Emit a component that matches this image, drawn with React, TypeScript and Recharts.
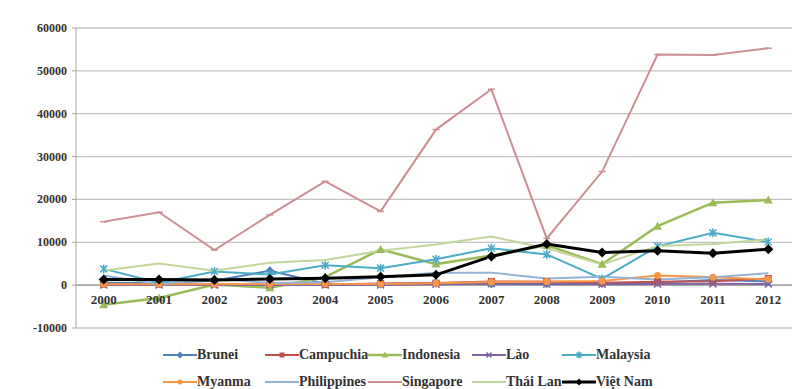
import { LineChart, Line, XAxis, YAxis, CartesianGrid, ReferenceLine, Legend } from 'recharts';

const years = ['2000', '2001', '2002', '2003', '2004', '2005', '2006', '2007', '2008', '2009', '2010', '2011', '2012'];

const brunei = [550, 526, 1035, 3375, 334, 289, 434, 260, 330, 371, 626, 1208, 865];
const campuchia = [149, 149, 145, 84, 131, 381, 483, 867, 815, 539, 783, 902, 1557];
const indonesia = [-4550, -2980, 145, -600, 1900, 8340, 4910, 6930, 9320, 4880, 13770, 19240, 19850];
const lao = [34, 24, 5, 19, 17, 28, 187, 324, 228, 190, 279, 301, 294];
const malaysia = [3790, 550, 3200, 2470, 4620, 3970, 6060, 8600, 7170, 1450, 9060, 12200, 10070];
const myanma = [210, 190, 190, 290, 250, 240, 430, 710, 860, 970, 2250, 1850, 1350];
const philippines = [2240, 200, 1540, 490, 690, 1850, 2920, 2920, 1540, 1960, 1300, 1820, 2800];
const singapore = [14800, 17000, 8200, 16400, 24200, 17200, 36300, 45700, 10900, 26500, 53800, 53700, 55300];
const thaiLan = [3400, 5070, 3340, 5240, 5860, 8000, 9460, 11330, 8570, 4850, 9150, 9600, 10700];
const vietNam = [1300, 1300, 1200, 1450, 1610, 1950, 2400, 6700, 9580, 7600, 8000, 7430, 8370];

const yTicks = [-10000, 0, 10000, 20000, 30000, 40000, 50000, 60000];

type Shape = 'diamond' | 'square' | 'triangle' | 'x' | 'star' | 'circle' | 'plus' | 'dash' | 'none';

const series: { name: string; values: number[]; color: string; shape: Shape; width: number }[] = [
  { name: 'Brunei', values: brunei, color: '#4f81bd', shape: 'diamond', width: 2 },
  { name: 'Campuchia', values: campuchia, color: '#c0504d', shape: 'square', width: 2 },
  { name: 'Indonesia', values: indonesia, color: '#9bbb59', shape: 'triangle', width: 2.5 },
  { name: 'Lào', values: lao, color: '#8064a2', shape: 'x', width: 2 },
  { name: 'Malaysia', values: malaysia, color: '#4bacc6', shape: 'star', width: 2 },
  { name: 'Myanma', values: myanma, color: '#f79646', shape: 'circle', width: 2 },
  { name: 'Philippines', values: philippines, color: '#95b3d7', shape: 'none', width: 2 },
  { name: 'Singapore', values: singapore, color: '#cc8f93', shape: 'dash', width: 2 },
  { name: 'Thái Lan', values: thaiLan, color: '#c3d69b', shape: 'none', width: 2 },
  { name: 'Việt Nam', values: vietNam, color: '#000000', shape: 'diamond', width: 3 },
];

const data = years.map((year, i) => {
  const row: Record<string, string | number> = { year };
  series.forEach(s => { row[s.name] = s.values[i]; });
  return row;
});

const legendCols = [163, 265, 368, 472, 562];
const FONT = "'Liberation Serif', 'DejaVu Serif', serif";

function Marker({ cx, cy, shape, color, r = 3.5 }: { cx: number; cy: number; shape: Shape; color: string; r?: number }) {
  if (cx == null || cy == null) return null;
  switch (shape) {
    case 'diamond':
      return <polygon points={`${cx},${cy - r - 1} ${cx + r + 1},${cy} ${cx},${cy + r + 1} ${cx - r - 1},${cy}`} fill={color} />;
    case 'square':
      return <rect x={cx - r} y={cy - r} width={r * 2} height={r * 2} fill={color} />;
    case 'triangle':
      return <polygon points={`${cx},${cy - r - 1} ${cx + r + 1},${cy + r} ${cx - r - 1},${cy + r}`} fill={color} />;
    case 'x':
      return <path d={`M${cx - r},${cy - r}L${cx + r},${cy + r}M${cx - r},${cy + r}L${cx + r},${cy - r}`} stroke={color} strokeWidth={1.5} />;
    case 'star':
      return <path d={`M${cx - r},${cy - r}L${cx + r},${cy + r}M${cx - r},${cy + r}L${cx + r},${cy - r}M${cx},${cy - r - 1}L${cx},${cy + r + 1}`} stroke={color} strokeWidth={1.5} />;
    case 'circle':
      return <circle cx={cx} cy={cy} r={r} fill={color} />;
    case 'plus':
      return <path d={`M${cx - r},${cy}L${cx + r},${cy}M${cx},${cy - r}L${cx},${cy + r}`} stroke={color} strokeWidth={1.5} />;
    case 'dash':
      return <path d={`M${cx - r},${cy}L${cx + r},${cy}`} stroke={color} strokeWidth={1.5} />;
    default:
      return null;
  }
}

const XTick = (props: any) => {
  const { x, y, payload } = props;
  return (
    <text x={x} y={y} dy={-24} textAnchor="middle" style={{ fontFamily: FONT, fontWeight: 'bold', fontSize: 13 }} fill="#333">
      {payload.value}
    </text>
  );
};

const YTick = (props: any) => {
  const { x, y, payload } = props;
  return (
    <text x={x} y={y} dy={4} textAnchor="end" style={{ fontFamily: FONT, fontWeight: 'bold', fontSize: 12 }} fill="#333">
      {payload.value}
    </text>
  );
};

const LegendContent = () => (
  <div style={{ position: 'relative', width: 796, height: 50, fontFamily: FONT, fontWeight: 'bold', fontSize: 14, color: '#333' }}>
    {series.map((s, i) => {
      const row = Math.floor(i / 5);
      const col = i % 5;
      return (
        <div key={s.name} style={{ position: 'absolute', left: legendCols[col], top: row * 27 + 8, height: 16, display: 'flex', alignItems: 'center', whiteSpace: 'nowrap' }}>
          <svg width={34} height={16}>
            <line x1={0} y1={8} x2={34} y2={8} stroke={s.color} strokeWidth={s.width} />
            <Marker cx={17} cy={8} shape={s.shape} color={s.color} r={2.5} />
          </svg>
          <span>{s.name}</span>
        </div>
      );
    })}
  </div>
);

export default function App() {
  return (
    <div style={{ position: 'fixed', left: 0, top: 0, width: 792, height: 389, overflow: 'hidden', background: '#fff' }}>
      <LineChart width={796} height={389} data={data} margin={{ top: 28, right: 0, bottom: 0, left: 0 }}>
        <CartesianGrid vertical={false} stroke="#c4c4c4" strokeWidth={1.3} />
        <XAxis
          dataKey="year"
          axisLine={false}
          tickLine={false}
          tickSize={0}
          tickMargin={0}
          height={11}
          interval={0}
          padding={{ left: 27.7, right: 27.7 }}
          tick={<XTick />}
        />
        <YAxis
          width={76}
          domain={[-10000, 60000]}
          ticks={yTicks}
          interval={0}
          stroke="#a6a6a6"
          tickSize={4}
          tickMargin={5}
          tick={<YTick />}
        />
        <ReferenceLine y={0} stroke="#9a9a9a" strokeWidth={1.3} />
        <Legend verticalAlign="bottom" height={50} content={<LegendContent />} wrapperStyle={{ left: 0, bottom: 0, width: 796, height: 50 }} />
        {series.map(s => (
          <Line
            key={s.name}
            type="linear"
            dataKey={s.name}
            stroke={s.color}
            strokeWidth={s.width}
            isAnimationActive={false}
            dot={(p: any) => <Marker key={`${s.name}-${p.index}`} cx={p.cx} cy={p.cy} shape={s.shape} color={s.color} r={s.name === 'Việt Nam' ? 4 : 3.5} />}
            activeDot={false}
          />
        ))}
      </LineChart>
    </div>
  );
}
